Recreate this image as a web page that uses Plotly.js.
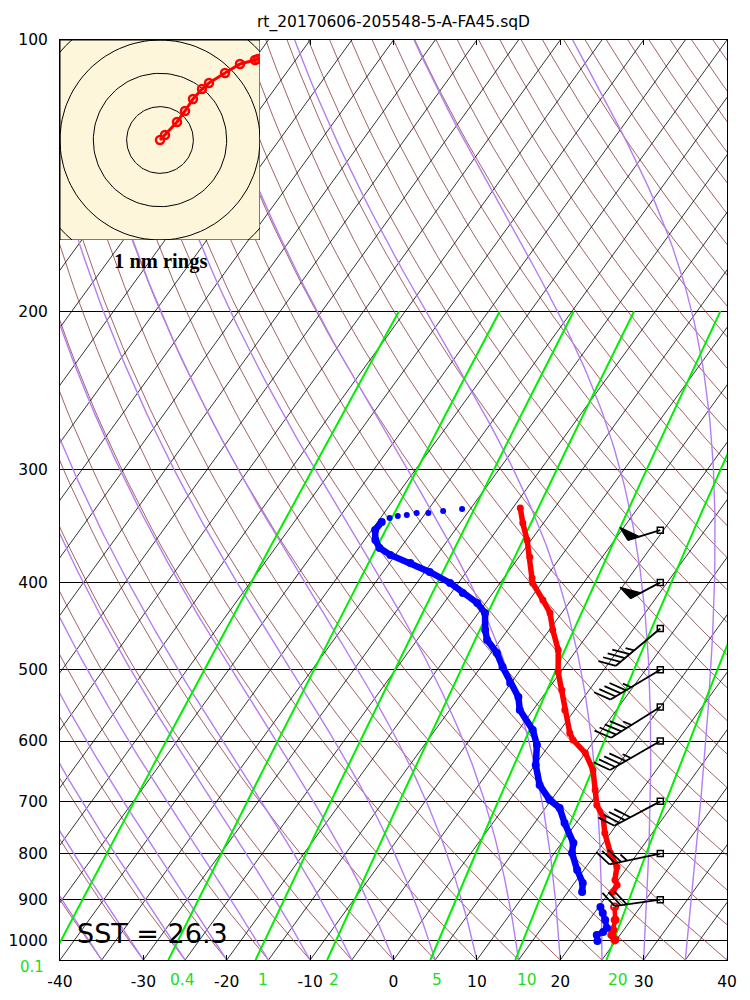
<!DOCTYPE html>
<html><head><meta charset="utf-8">
<script src="https://cdn.plot.ly/plotly-3.0.1.min.js"></script>
<style>html,body{margin:0;padding:0;background:#fff}</style>
</head><body><div id="chart" style="width:750px;height:1000px"></div>
<script>
// ---------------- data ----------------
const tempPres = [330.7,343.6,358.9,374.8,395.5,400.6,418.3,432.5,451.7,475.4,502.9,526.5,554.1,587.7,598.3,618.5,646.0,679.9,706.4,728.4,758.9,798.6,827.7,855.7,866.7,882.3];
const tempC    = [-24.1,-22.5,-20.5,-18.7,-16.6,-16.1,-13.4,-11.4,-9.6,-7.2,-5.3,-3.3,-1.2,1.4,2.4,5.0,7.4,9.4,10.9,12.7,14.3,16.7,18.7,19.6,20.3,20.4];
const tempPresLow = [916.7,947.7,972.3,984.8,997.4];
const tempCLow    = [21.9,23.1,23.7,24.0,24.8];

const dewPresTop = [331.5,333.2,334.9,334.9,336.7,337.5,339.3];
const dewCTop    = [-31.0,-33.1,-34.7,-36.1,-37.1,-38.1,-38.9];
const dewPres = [342.7,349.8,358.9,366.3,372.9,380.6,389.5,400.6,411.0,421.6,432.5,451.7,463.4,479.0,496.5,517.2,536.0,554.1,583.2,606.0,637.8,671.2,697.4,711.8,739.7,778.5,798.6,834.1,862.3,882.3];
const dewC    = [-39.5,-39.6,-38.7,-37.5,-35.6,-32.5,-29.4,-26.0,-23.6,-21.0,-19.2,-17.7,-16.6,-14.3,-12.4,-10.1,-7.9,-6.6,-3.3,-1.5,0.1,2.3,4.8,6.7,8.6,11.4,12.1,14.2,16.0,16.7];
const dewPresLow = [916.7,930.9,947.7,967.3,977.2,984.8,1000];
const dewCLow    = [20.2,21.0,21.9,22.8,22.7,22.2,22.8];

const windPres = [350,400,450,500,550,600,700,800,900];
const windDir  = [253,242,230,239,238,240,242,258,262];
const windKt   = [50,50,45,45,45,45,40,35,30];

const driftEast  = [0,0.15,0.51,0.75,0.99,1.26,1.47,1.95,2.40,2.85,2.94];
const driftNorth = [0,0.15,0.54,0.87,1.23,1.53,1.71,2.01,2.28,2.40,2.43];
const ringRadii = [1,2,3,4];

const mixRatios = [0.1,0.4,1,2,5,10,20];
const mixLabels = ['0.1','0.4','1','2','5','10','20'];
const pTicks = [100,200,300,400,500,600,700,800,900,1000];
const tTicks = [-40,-30,-20,-10,0,10,20,30,40];
const sstText = 'SST = 26.3';
const titleText = 'rt_20170606-205548-5-A-FA45.sqD';

// ---------------- skew-T geometry ----------------
const PBOT = 1050, PTOP = 100;
const K = 80/Math.log(PBOT/PTOP);
const skx = (T,p) => T + K*Math.log(PBOT/p);
const PX_X = 667/80;
const PX_DEC = 920/Math.log10(PBOT/PTOP);

function esat(Tc){return 6.112*Math.exp(17.67*Tc/(Tc+243.5));}
function tdFromW(w,p){const e=w*p/(622+w); const l=Math.log(e/6.112); return 243.5*l/(17.67-l);}
function pLevels(p0,p1,n){const a=[];for(let i=0;i<=n;i++)a.push(p0*Math.pow(p1/p0,i/n));return a;}

// isotherms
const isoX=[],isoY=[];
for(let T=-120;T<=40;T+=5){isoX.push(skx(T,PBOT),skx(T,PTOP),null);isoY.push(PBOT,PTOP,null);}
// dry adiabats
const kap=0.2857;
const dryX=[],dryY=[];
const lev=pLevels(PBOT,PTOP,60);
for(let T0=-45;T0<=185;T0+=5){
  const th=(T0+273.15)*Math.pow(1000/PBOT,kap);
  lev.forEach(p=>{dryX.push(skx(th*Math.pow(p/1000,kap)-273.15,p));dryY.push(p);});
  dryX.push(null);dryY.push(null);
}
// moist adiabats
function dTdp(Tk,p){const Tc=Tk-273.15;const es=esat(Tc);const rs=0.622*es/(p-es);
  const Rd=287.04,cp=1005.7,L=2.501e6;
  return (Rd*Tk+L*rs)/(p*(cp+L*L*rs*0.622/(Rd*Tk*Tk)));}
const moistX=[],moistY=[];
for(let T0=-40;T0<=40;T0+=5){
  let Tk=T0+273.15,p=PBOT;const dp=-5;
  moistX.push(skx(T0,p));moistY.push(p);
  while(p>PTOP+0.01){
    const k1=dTdp(Tk,p);const k2=dTdp(Tk+k1*dp/2,p+dp/2);
    Tk+=k2*dp;p+=dp;
    moistX.push(skx(Tk-273.15,p));moistY.push(p);
  }
  moistX.push(null);moistY.push(null);
}
// mixing ratio lines
const mixX=[],mixY=[];
const lev2=pLevels(PBOT,200,30);
mixRatios.forEach(w=>{lev2.forEach(p=>{mixX.push(skx(tdFromW(w,p),p));mixY.push(p);});mixX.push(null);mixY.push(null);});

// ---------------- wind barbs ----------------
const barbX = 32; // column of station markers (skewed x units)
const bx=[],by=[],fx=[],fy=[];
function toData(p0,dx,dy){return [barbX+dx/PX_X, p0*Math.pow(10,dy/PX_DEC)];}
function rot(sx,sy,deg){const a=deg*Math.PI/180;return [Math.cos(a)*sx-Math.sin(a)*sy, Math.sin(a)*sx+Math.cos(a)*sy];}
windPres.forEach((p0,i)=>{
  const d=windDir[i]*Math.PI/180;
  const sx=Math.sin(d), sy=-Math.cos(d);
  const f=rot(sx,sy,55);
  const pf=rot(sx,sy,75);
  let spd=Math.round(windKt[i]/5)*5;
  const n50=Math.floor(spd/50); spd-=n50*50;
  const n10=Math.floor(spd/10); spd-=n10*10;
  const n5=spd>=5?1:0;
  const L=28+6*(n10+n5)+6*n50;
  let q=toData(p0,0,0);bx.push(q[0]);by.push(q[1]);
  q=toData(p0,L*sx,L*sy);bx.push(q[0]);by.push(q[1]);bx.push(null);by.push(null);
  let pos=L;
  for(let k=0;k<n50;k++){
    const w=12;
    const pts=[[pos*sx,pos*sy],[(pos-w)*sx,(pos-w)*sy],[pos*sx+15*pf[0],pos*sy+15*pf[1]],[pos*sx,pos*sy]];
    pts.forEach(pp=>{const r=toData(p0,pp[0],pp[1]);fx.push(r[0]);fy.push(r[1]);});
    fx.push(null);fy.push(null);
    pos-=w+3;
  }
  for(let k=0;k<n10;k++){
    let r=toData(p0,pos*sx,pos*sy);bx.push(r[0]);by.push(r[1]);
    r=toData(p0,pos*sx+18*f[0],pos*sy+18*f[1]);bx.push(r[0]);by.push(r[1]);bx.push(null);by.push(null);
    pos-=6;
  }
  if(n5){
    let r=toData(p0,pos*sx,pos*sy);bx.push(r[0]);by.push(r[1]);
    r=toData(p0,pos*sx+9*f[0],pos*sy+9*f[1]);bx.push(r[0]);by.push(r[1]);bx.push(null);by.push(null);
  }
});

// ---------------- hodograph ----------------
const ringX=[],ringY=[];
ringRadii.forEach(r=>{for(let k=0;k<=120;k++){const t=2*Math.PI*k/120;ringX.push(r*Math.cos(t));ringY.push(r*Math.sin(t));}ringX.push(null);ringY.push(null);});

const RED='#ff0000', BLUE='#0000ff';
const traces=[
  {x:dryX,y:dryY,mode:'lines',line:{color:'#8a3b3b',width:0.8},hoverinfo:'skip'},
  {x:isoX,y:isoY,mode:'lines',line:{color:'#000',width:0.8},hoverinfo:'skip'},
  {x:moistX,y:moistY,mode:'lines',line:{color:'#b57ef0',width:1.4},hoverinfo:'skip'},
  {x:mixX,y:mixY,mode:'lines',line:{color:'#00ee00',width:2},hoverinfo:'skip'},
  {x:tempC.map((t,i)=>skx(t,tempPres[i])),y:tempPres,mode:'lines+markers',line:{color:RED,width:5.5},marker:{color:RED,size:7}},
  {x:tempCLow.map((t,i)=>skx(t,tempPresLow[i])),y:tempPresLow,mode:'lines+markers',line:{color:RED,width:4.5},
    marker:{color:RED,size:7,symbol:tempPresLow.map((p,i)=>i===0?'circle-open':'circle'),line:{color:RED,width:2}}},
  {x:dewCTop.map((t,i)=>skx(t,dewPresTop[i])),y:dewPresTop,mode:'markers',marker:{color:BLUE,size:6}},
  {x:dewC.map((t,i)=>skx(t,dewPres[i])),y:dewPres,mode:'lines+markers',line:{color:BLUE,width:6.5},marker:{color:BLUE,size:8}},
  {x:dewCLow.map((t,i)=>skx(t,dewPresLow[i])),y:dewPresLow,mode:'lines+markers',line:{color:BLUE,width:5.5},marker:{color:BLUE,size:8}},
  {x:bx,y:by,mode:'lines',line:{color:'#000',width:1.8},hoverinfo:'skip'},
  {x:fx,y:fy,mode:'lines',fill:'toself',fillcolor:'#000',line:{color:'#000',width:1.2},hoverinfo:'skip'},
  {x:windPres.map(()=>barbX),y:windPres,mode:'markers',marker:{symbol:'square-open',size:6,color:'#000',line:{width:1.5,color:'#000'}}},
  // hodograph
  {x:[-3,3,3,-3,-3],y:[-3,-3,3,3,-3],xaxis:'x2',yaxis:'y2',mode:'lines',fill:'toself',fillcolor:'#fdf6da',line:{color:'#000',width:1},hoverinfo:'skip'},
  {x:ringX,y:ringY,xaxis:'x2',yaxis:'y2',mode:'lines',line:{color:'#000',width:1},hoverinfo:'skip'},
  {x:driftEast,y:driftNorth,xaxis:'x2',yaxis:'y2',mode:'lines+markers',line:{color:RED,width:3},
    marker:{symbol:'circle-open',size:8,color:RED,line:{color:RED,width:2.5}}}
];

const GREEN='#22dd22';
const annotations=[
  {xref:'paper',yref:'paper',x:15/667,y:(960-933)/920,xanchor:'left',yanchor:'middle',showarrow:false,text:sstText,font:{size:27,color:'#000'}},
  {xref:'paper',yref:'paper',x:100/667,y:(960-261)/920,xanchor:'center',yanchor:'middle',showarrow:false,text:'<b>1 nm rings</b>',font:{family:'Liberation Serif',size:20.5,color:'#000'}}
];
mixRatios.forEach((w,i)=>{
  const xd=tdFromW(w,PBOT);
  if(i===0){
    annotations.push({xref:'paper',yref:'paper',x:-14/667,y:-7/920,xanchor:'right',yanchor:'middle',showarrow:false,text:mixLabels[i],font:{size:15,color:GREEN}});
  } else {
    annotations.push({xref:'paper',yref:'paper',x:(xd+40)/80,y:-20/920,xanchor:'left',yanchor:'middle',showarrow:false,text:mixLabels[i],font:{size:15.5,color:GREEN}});
  }
});

const layout={
  width:750,height:1000,
  margin:{l:60,r:23,t:40,b:40},
  paper_bgcolor:'#fff',plot_bgcolor:'#fff',
  showlegend:false,
  font:{family:'DejaVu Sans',size:15.5,color:'#000'},
  title:{text:titleText,x:0.5,xref:'paper',y:1-22/1000,yref:'container',yanchor:'middle',font:{size:15.5,color:'#000'}},
  xaxis:{range:[-40,40],tickvals:tTicks,ticktext:tTicks.map(String),showgrid:false,zeroline:false,showline:true,mirror:'ticks',
    linecolor:'#000',linewidth:1,ticks:'inside',ticklen:5,tickcolor:'#000',ticklabelstandoff:7},
  yaxis:{type:'log',range:[Math.log10(PBOT),Math.log10(PTOP)],tickvals:pTicks,ticktext:pTicks.map(String),showgrid:true,gridcolor:'#000',gridwidth:1,
    zeroline:false,showline:true,mirror:true,linecolor:'#000',linewidth:1,ticks:'',ticklabelstandoff:8},
  xaxis2:{domain:[0,200/667],range:[-3,3],visible:false,anchor:'y2'},
  yaxis2:{domain:[1-200/920,1],range:[-3,3],visible:false,anchor:'x2'},
  annotations:annotations
};
Plotly.newPlot('chart',traces,layout,{displayModeBar:false,staticPlot:true});
</script></body></html>
